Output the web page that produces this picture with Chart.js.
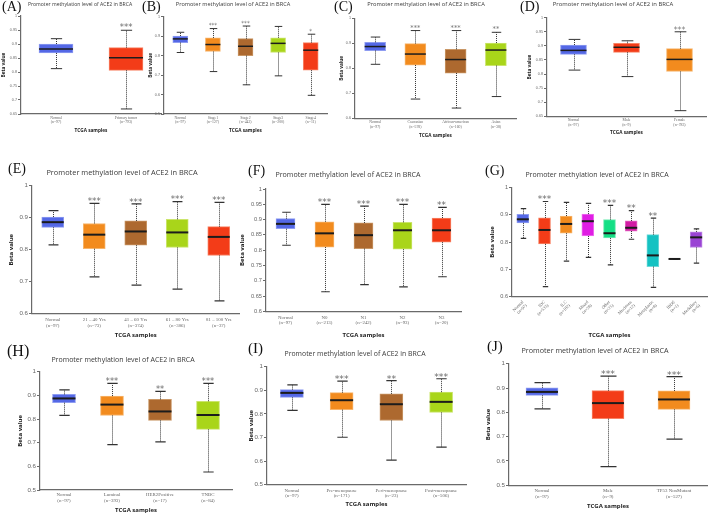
<!DOCTYPE html>
<html>
<head>
<meta charset="utf-8">
<script src="https://cdn.jsdelivr.net/npm/chart.js@4.4.0/dist/chart.umd.min.js"></script>
<style>
  body { margin: 0; background: #fff; }
  #page { position: relative; width: 709px; height: 514px; overflow: hidden; background: #fff; }
  #page canvas { position: absolute; left: 0; top: 0; }
  .letter { position: absolute; font-family: "Liberation Serif", serif; color: #111; line-height: 1; white-space: nowrap; }
  .title { position: absolute; font-family: "Open Sans", sans-serif; color: #3a3a3a; line-height: 1; white-space: nowrap; transform: translate(-50%, -50%); }
</style>
</head>
<body>
<div id="page"></div>
<script>
// ---- data: [min, Q1, median, Q3, max] per group ----
const A_GROUPS = [['Normal', '(n=97)'], ['Primary tumor', '(n=793)']];
const A_STATS = [
  [0.812, 0.868, 0.882, 0.900, 0.919],
  [0.668, 0.806, 0.851, 0.887, 0.949],
];
const A_SIG = ['', '***'];

const B_GROUPS = [['Normal', '(n=97)'], ['Stage1', '(n=127)'], ['Stage2', '(n=442)'], ['Stage3', '(n=200)'], ['Stage4', '(n=11)']];
const B_STATS = [
  [0.816, 0.867, 0.886, 0.901, 0.920],
  [0.718, 0.821, 0.857, 0.891, 0.939],
  [0.650, 0.800, 0.848, 0.887, 0.952],
  [0.696, 0.816, 0.863, 0.892, 0.950],
  [0.596, 0.725, 0.828, 0.867, 0.910],
];
const B_SIG = ['', '***', '***', '', '*'];

const C_GROUPS = [['Normal', '(n=97)'], ['Caucasian', '(n=578)'], ['African-american', '(n=160)'], ['Asian', '(n=38)']];
const C_STATS = [
  [0.816, 0.871, 0.887, 0.904, 0.925],
  [0.677, 0.813, 0.857, 0.899, 0.951],
  [0.641, 0.781, 0.835, 0.876, 0.951],
  [0.687, 0.811, 0.873, 0.901, 0.944],
];
const C_SIG = ['', '***', '***', '**'];

const D_GROUPS = [['Normal', '(n=97)'], ['Male', '(n=9)'], ['Female', '(n=783)']];
const D_STATS = [
  [0.814, 0.870, 0.884, 0.903, 0.923],
  [0.791, 0.877, 0.895, 0.909, 0.918],
  [0.670, 0.809, 0.852, 0.890, 0.950],
];
const D_SIG = ['', '', '***'];

const E_GROUPS = [['Normal', '(n=97)'], ['21 – 40 Yrs', '(n=73)'], ['41 – 60 Yrs', '(n=374)'], ['61 – 80 Yrs', '(n=306)'], ['81 – 100 Yrs', '(n=37)']];
const E_STATS = [
  [0.815, 0.870, 0.886, 0.902, 0.922],
  [0.715, 0.803, 0.847, 0.882, 0.945],
  [0.689, 0.814, 0.857, 0.890, 0.943],
  [0.677, 0.807, 0.854, 0.895, 0.950],
  [0.640, 0.782, 0.840, 0.872, 0.948],
];
const E_SIG = ['', '***', '***', '***', '***'];

const F_GROUPS = [['Normal', '(n=97)'], ['N0', '(n=213)'], ['N1', '(n=242)'], ['N2', '(n=93)'], ['N3', '(n=20)']];
const F_STATS = [
  [0.816, 0.870, 0.886, 0.903, 0.924],
  [0.664, 0.810, 0.855, 0.893, 0.950],
  [0.687, 0.805, 0.849, 0.889, 0.944],
  [0.680, 0.803, 0.865, 0.891, 0.950],
  [0.713, 0.826, 0.865, 0.905, 0.940],
];
const F_SIG = ['', '***', '***', '***', '**'];

const G_GROUPS = [['Normal', '(n=97)'], ['IDC', '(n=533)'], ['ILC', '(n=182)'], ['Mixed', '(n=28)'], ['Other', '(n=25)'],
  ['Mucinous', '(n=12)'], ['Metaplastic', '(n=8)'], ['IBDS', '(n=1)'], ['Medullary', '(n=6)']];
const G_STATS = [
  [0.813, 0.870, 0.883, 0.901, 0.922],
  [0.637, 0.793, 0.844, 0.888, 0.948],
  [0.730, 0.832, 0.866, 0.895, 0.945],
  [0.744, 0.822, 0.876, 0.902, 0.941],
  [0.716, 0.815, 0.832, 0.882, 0.934],
  [0.810, 0.840, 0.852, 0.877, 0.915],
  [0.634, 0.710, 0.751, 0.827, 0.887],
  [0.738, 0.738, 0.738, 0.738, 0.738],
  [0.723, 0.780, 0.817, 0.837, 0.848],
];
const G_SIG = ['', '***', '', '', '***', '**', '**', '', ''];

const H_GROUPS = [['Normal', '(n=97)'], ['Luminal', '(n=393)'], ['HER2Positive', '(n=17)'], ['TNBC', '(n=84)']];
const H_STATS = [
  [0.815, 0.869, 0.887, 0.904, 0.923],
  [0.692, 0.815, 0.861, 0.897, 0.951],
  [0.703, 0.794, 0.832, 0.883, 0.917],
  [0.576, 0.756, 0.817, 0.875, 0.951],
];
const H_SIG = ['', '***', '**', '***'];

const I_GROUPS = [['Normal', '(n=97)'], ['Pre-menopause', '(n=171)'], ['Peri-menopause', '(n=23)'], ['Post-menopause', '(n=506)']];
const I_STATS = [
  [0.815, 0.870, 0.889, 0.903, 0.923],
  [0.701, 0.818, 0.858, 0.890, 0.939],
  [0.604, 0.772, 0.841, 0.885, 0.941],
  [0.659, 0.806, 0.851, 0.892, 0.949],
];
const I_SIG = ['', '***', '**', '***'];

const J_GROUPS = [['Normal', '(n=97)'], ['Male', '(n=9)'], ['TP53 NonMutant', '(n=527)']];
const J_STATS = [
  [0.814, 0.870, 0.884, 0.901, 0.922],
  [0.577, 0.774, 0.838, 0.889, 0.949],
  [0.690, 0.812, 0.853, 0.888, 0.947],
];
const J_SIG = ['', '***', '***'];

const TITLE = 'Promoter methylation level of ACE2 in BRCA';

// ---- styles ----
const COLOURS = {
  blue:    ['#5468e6', '#8e9cf1'],
  red:     ['#f33c18', '#f88466'],
  orange:  ['#f28b1e', '#f7b56c'],
  brown:   ['#ad692f', '#c99766'],
  lime:    ['#a9d51a', '#cbe56c'],
  magenta: ['#e01de4', '#ee72f0'],
  green:   ['#14df85', '#72ebb4'],
  pink:    ['#d21ca4', '#e36cc4'],
  teal:    ['#15c2c2', '#6fd9d9'],
  grey:    ['#222222', '#222222'],
  purple:  ['#9a44d4', '#c08ae6'],
};

const ROW1 = { tick: 3.7, label: 3.8, axis: 4.7, median: 1.5, cap: 1, starGap: 4.8 };
const ROW23 = { tick: 6.2, label: 4.9, axis: 6, median: 2, cap: 1.2, starGap: 4.4 };

// area = [left, top, right, bottom] of the plot in page pixels
const PANELS = [
  { key: 'A', groups: A_GROUPS, stats: A_STATS, sig: A_SIG, colours: ['blue', 'red'],
    area: [21, 16, 161, 114], y: [0.65, 1, 0.05], box: 34, cap: 0.33, betaX: 3.5, tcgaY: 131, labelPad: 2,
    font: { ...ROW1, star: 8.5, starGap: 5.2 }, title: [80, 5, 5.1], letter: [2, 0, 14] },
  { key: 'B', groups: B_GROUPS, stats: B_STATS, sig: B_SIG, colours: ['blue', 'orange', 'brown', 'lime', 'red'],
    area: [164, 16.7, 327, 114], y: [0.5, 1, 0.1], box: 15, cap: 0.5, betaX: 150.7, tcgaY: 131, labelPad: 2,
    font: { ...ROW1, star: 5.6 }, title: [233, 5, 5.6], letter: [142, 0, 14] },
  { key: 'C', groups: C_GROUPS, stats: C_STATS, sig: C_SIG, colours: ['blue', 'orange', 'brown', 'lime'],
    area: [355, 18.3, 516, 118.3], y: [0.6, 1, 0.1], box: 21, cap: 0.45, betaX: 342, tcgaY: 135.7, labelPad: 2,
    font: { ...ROW1, star: 6.7 }, title: [426, 5, 5.75], letter: [334, 0, 14] },
  { key: 'D', groups: D_GROUPS, stats: D_STATS, sig: D_SIG, colours: ['blue', 'red', 'orange'],
    area: [547, 17.7, 706, 116.3], y: [0.65, 1, 0.05], box: 26, cap: 0.45, betaX: 530, tcgaY: 132.3, labelPad: 2,
    font: { ...ROW1, star: 7.8 }, title: [613, 5, 5.9], letter: [520, 0, 14] },
  { key: 'E', groups: E_GROUPS, stats: E_STATS, sig: E_SIG, colours: ['blue', 'orange', 'brown', 'lime', 'red'],
    area: [32, 185.7, 239.5, 313.7], y: [0.6, 1, 0.1], box: 22, cap: 0.45, betaX: 11, tcgaY: 335, labelPad: 3.5,
    font: { ...ROW23, star: 8.7 }, title: [122, 173, 7.4], letter: [8, 162, 14] },
  { key: 'F', groups: F_GROUPS, stats: F_STATS, sig: F_SIG, colours: ['blue', 'orange', 'brown', 'lime', 'red'],
    area: [266, 189, 461, 311.3], y: [0.6, 1, 0.05], box: 19, cap: 0.45, betaX: 242, tcgaY: 335, labelPad: 3.5,
    font: { ...ROW23, tick: 5.7, star: 8.9 }, title: [348, 175, 7.1], letter: [248, 163.5, 14] },
  { key: 'G', groups: G_GROUPS, stats: G_STATS, sig: G_SIG,
    colours: ['blue', 'red', 'orange', 'magenta', 'green', 'pink', 'teal', 'grey', 'purple'],
    area: [512, 187.3, 707, 296.7], y: [0.6, 1, 0.1], box: 12, cap: 0.45, betaX: 492.7, tcgaY: 335, labelPad: 3, rotate: 45,
    font: { ...ROW23, tick: 5.6, label: 4.4, star: 8.9 }, title: [597, 174, 7.0], letter: [485, 163.5, 14] },
  { key: 'H', groups: H_GROUPS, stats: H_STATS, sig: H_SIG, colours: ['blue', 'orange', 'brown', 'lime'],
    area: [40, 371.7, 232, 490], y: [0.5, 1, 0.1], box: 23, cap: 0.45, betaX: 20.7, tcgaY: 510, labelPad: 2.5,
    font: { ...ROW23, star: 8.2 }, title: [123, 359, 7.0], letter: [7, 343, 16] },
  { key: 'I', groups: I_GROUPS, stats: I_STATS, sig: I_SIG, colours: ['blue', 'orange', 'brown', 'lime'],
    area: [267, 366.7, 466, 484.7], y: [0.5, 1, 0.1], box: 23, cap: 0.45, betaX: 251, tcgaY: 504, labelPad: 3,
    font: { ...ROW23, star: 9.3 }, title: [355, 354, 6.9], letter: [248, 341, 15] },
  { key: 'J', groups: J_GROUPS, stats: J_STATS, sig: J_SIG, colours: ['blue', 'red', 'orange'],
    area: [509, 363.7, 707, 485.3], y: [0.5, 1, 0.1], box: 32, cap: 0.5, betaX: 488, tcgaY: 506, labelPad: 3,
    font: { ...ROW23, star: 9.3 }, title: [595, 351, 7.2], letter: [487, 339, 15] },
];

const AXIS_COLOUR = '#6a6a6a';
const WIDTH = 709;
const HEIGHT = 514;

/**
 * Whiskers, caps, medians and significance stars, drawn on top of the
 * floating bars (Q1..Q3) using the chart's own y scale.
 */
function boxPlot(panel) {
  return {
    id: 'boxPlot' + panel.key,
    afterDatasetsDraw(chart) {
      const ctx = chart.ctx;
      const yScale = chart.scales.y;
      const py = (v) => yScale.getPixelForValue(v);
      const f = panel.font;
      ctx.save();
      chart.getDatasetMeta(0).data.forEach((bar, i) => {
        const [lo, q1, median, q3, hi] = panel.stats[i];
        const x = Math.round(bar.x) + 0.5;
        const half = bar.width / 2;
        const capHalf = bar.width * panel.cap / 2;

        // dotted whiskers
        ctx.strokeStyle = '#333';
        ctx.lineWidth = 1;
        ctx.setLineDash([1, 1]);
        ctx.beginPath();
        ctx.moveTo(x, py(q3)); ctx.lineTo(x, py(hi));
        ctx.moveTo(x, py(q1)); ctx.lineTo(x, py(lo));
        ctx.stroke();
        ctx.setLineDash([]);

        // caps
        ctx.lineWidth = f.cap;
        ctx.beginPath();
        [lo, hi].forEach((v) => { ctx.moveTo(x - capHalf, py(v)); ctx.lineTo(x + capHalf, py(v)); });
        ctx.stroke();

        // median
        ctx.strokeStyle = '#1c1c1c';
        ctx.lineWidth = f.median;
        ctx.beginPath();
        ctx.moveTo(bar.x - half, py(median));
        ctx.lineTo(bar.x + half, py(median));
        ctx.stroke();

        if (panel.sig[i]) {
          ctx.fillStyle = '#6a6a6a';
          ctx.font = f.star + 'px "DejaVu Sans"';
          ctx.textAlign = 'center';
          ctx.textBaseline = 'alphabetic';
          ctx.fillText(panel.sig[i], bar.x, py(hi) - f.starGap + 0.59 * f.star);
        }
      });
      ctx.restore();
    },
  };
}

function addText(cls, text, left, top, size) {
  const el = document.createElement('div');
  el.className = cls;
  el.textContent = text;
  el.style.left = left + 'px';
  el.style.top = top + 'px';
  el.style.fontSize = size + 'px';
  document.getElementById('page').appendChild(el);
}

function drawPanel(panel) {
  const [left, top, right, bottom] = panel.area;
  const f = panel.font;
  const axisLine = f.axis * 1.2;
  const yWidth = left - (panel.betaX - axisLine / 2);
  const xHeight = panel.tcgaY + axisLine / 2 - bottom;

  const canvas = document.createElement('canvas');
  canvas.width = WIDTH;
  canvas.height = HEIGHT;
  canvas.style.width = WIDTH + 'px';
  canvas.style.height = HEIGHT + 'px';
  document.getElementById('page').appendChild(canvas);

  new Chart(canvas, {
    type: 'bar',
    data: {
      labels: panel.groups,
      datasets: [{
        data: panel.stats.map((s) => [s[1], s[3]]),
        backgroundColor: panel.colours.map((c) => COLOURS[c][0]),
        borderColor: panel.colours.map((c) => COLOURS[c][1]),
        borderWidth: 1,
        borderSkipped: false,
        barThickness: panel.box,
      }],
    },
    options: {
      responsive: false,
      animation: false,
      devicePixelRatio: 1,
      layout: {
        padding: { left: left - yWidth, top: top, right: WIDTH - right, bottom: HEIGHT - bottom - xHeight },
      },
      plugins: { legend: { display: false }, tooltip: { enabled: false } },
      scales: {
        x: {
          type: 'category',
          offset: true,
          grid: { display: false, drawTicks: false },
          border: { display: true, color: AXIS_COLOUR, width: 1.2 },
          ticks: {
            autoSkip: false,
            maxRotation: panel.rotate || 0,
            minRotation: panel.rotate || 0,
            padding: panel.labelPad,
            color: '#666',
            font: { family: '"Liberation Serif", serif', size: f.label, lineHeight: 1.1 },
          },
          title: {
            display: true,
            text: 'TCGA samples',
            padding: 0,
            color: '#222',
            font: { family: '"Open Sans", sans-serif', size: f.axis, weight: 'bold' },
          },
          afterFit(scale) { scale.height = xHeight; },
        },
        y: {
          min: panel.y[0],
          max: panel.y[1],
          grid: { drawOnChartArea: false, drawTicks: true, tickLength: 3, color: AXIS_COLOUR, lineWidth: 1 },
          border: { display: true, color: AXIS_COLOUR, width: 1.2 },
          ticks: {
            stepSize: panel.y[2],
            padding: 1,
            color: '#666',
            font: { family: '"Liberation Sans", sans-serif', size: f.tick },
            callback: (v) => String(Math.round(v * 100) / 100),
          },
          title: {
            display: true,
            text: 'Beta value',
            padding: 0,
            color: '#222',
            font: { family: '"Open Sans", sans-serif', size: f.axis, weight: 'bold' },
          },
          afterFit(scale) { scale.width = yWidth; },
        },
      },
    },
    plugins: [boxPlot(panel)],
  });

  addText('title', TITLE, panel.title[0], panel.title[1], panel.title[2]);
  addText('letter', '(' + panel.key + ')', panel.letter[0], panel.letter[1], panel.letter[2]);
}

PANELS.forEach(drawPanel);
</script>
</body>
</html>
